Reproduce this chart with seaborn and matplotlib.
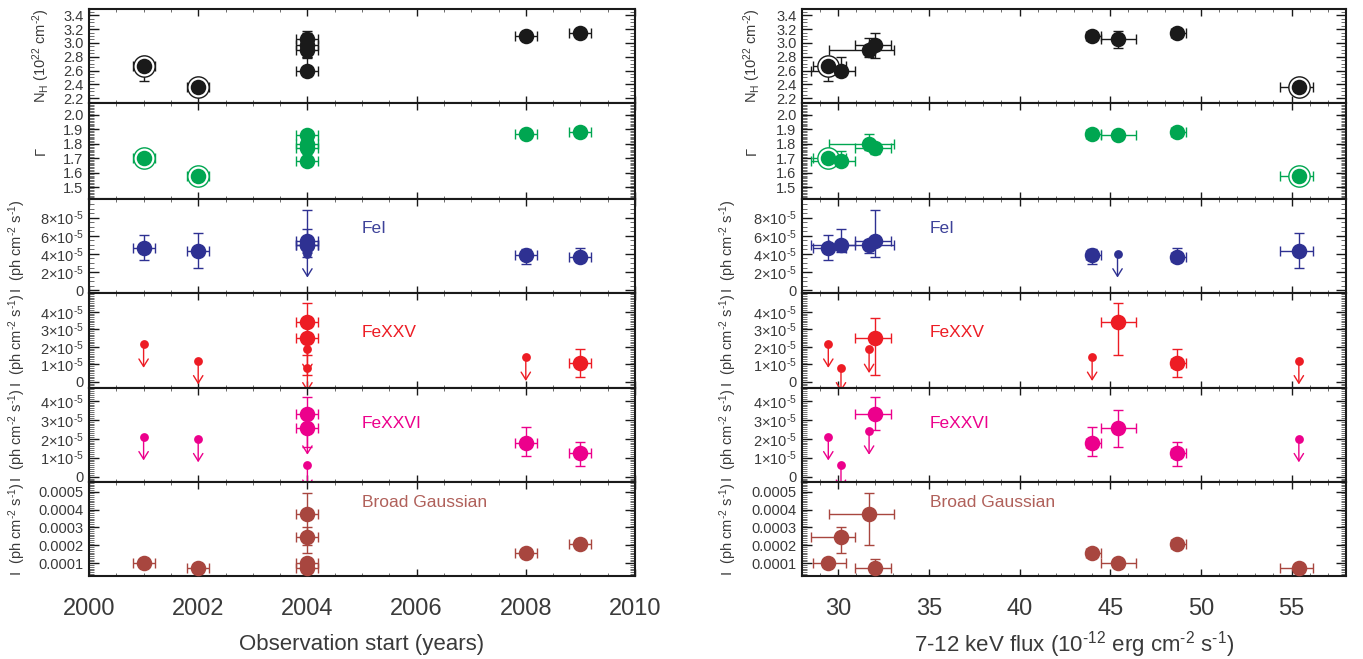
import numpy as np
import pandas as pd
import matplotlib
matplotlib.use("Agg")
import matplotlib.pyplot as plt
import matplotlib.transforms as mtransforms
from matplotlib.ticker import MultipleLocator, FixedLocator, FixedFormatter
import seaborn as sns

# ---------------- data (one entry per observation) ----------------
obs_date = [2001, 2004, 2004, 2004, 2008, 2004, 2009, 2002]
date_err = [0.2, 0.2, 0.2, 0.2, 0.2, 0.2, 0.2, 0.2]
flux = [29.45, 30.15, 31.7, 32.0, 44.0, 45.4, 48.7, 55.4]
flux_lo = [28.6, 28.5, 29.5, 30.95, 43.65, 44.5, 48.35, 54.35]
flux_hi = [30.4, 30.95, 33.1, 32.9, 44.5, 46.4, 49.2, 56.2]
circled = [1, 0, 0, 0, 0, 0, 0, 1]

nh = [2.67, 2.60, 2.90, 2.97, 3.10, 3.05, 3.15, 2.36]
nh_lo = [2.45, 2.52, 2.80, 2.78, 3.05, 2.93, 3.10, 2.26]
nh_hi = [2.80, 2.80, 3.07, 3.14, 3.15, 3.17, 3.20, 2.46]

gam = [1.70, 1.68, 1.80, 1.77, 1.87, 1.86, 1.88, 1.58]
gam_lo = [1.67, 1.65, 1.76, 1.73, 1.85, 1.84, 1.86, 1.56]
gam_hi = [1.73, 1.75, 1.865, 1.80, 1.89, 1.88, 1.90, 1.60]

fei = [4.6, 5.0, 5.0, 5.4, 3.9, 4.0, 3.7, 4.3]            # 1e-5
fei_lo = [3.3, 4.2, 4.1, 3.7, 2.9, np.nan, 3.1, 2.4]
fei_hi = [6.1, 6.7, 5.5, 8.8, 4.5, np.nan, 4.7, 6.3]
fei_ul = [0, 0, 0, 0, 0, 1, 0, 0]

fe25 = [2.15, 0.8, 1.85, 2.5, 1.4, 3.4, 1.1, 1.2]         # 1e-5
fe25_lo = [np.nan, np.nan, np.nan, 0.4, np.nan, 1.55, 0.25, np.nan]
fe25_hi = [np.nan, np.nan, np.nan, 3.65, np.nan, 4.5, 1.85, np.nan]
fe25_ul = [1, 1, 1, 0, 1, 0, 0, 1]

fe26 = [2.1, 0.6, 2.4, 3.3, 1.8, 2.55, 1.25, 2.0]         # 1e-5
fe26_lo = [np.nan, np.nan, np.nan, 2.45, 1.1, 1.55, 0.55, np.nan]
fe26_hi = [np.nan, np.nan, np.nan, 4.2, 2.6, 3.5, 1.85, np.nan]
fe26_ul = [1, 1, 1, 0, 0, 0, 0, 1]

bg = [1.0, 2.45, 3.75, 0.75, 1.6, 1.0, 2.1, 0.75]          # 1e-4
bg_lo = [0.92, 1.55, 2.0, 0.5, 1.52, 0.92, 2.02, 0.68]
bg_hi = [1.08, 3.0, 4.95, 1.25, 1.68, 1.08, 2.18, 0.82]

fei_ticks = [0, 2, 4, 6, 8]
fe25_ticks = [0, 1, 2, 3, 4]
fe26_ticks = [0, 1, 2, 3, 4]
bg_ticks = [1, 2, 3, 4, 5]
date_ticks = [2000, 2002, 2004, 2006, 2008, 2010]
flux_ticks = [30, 35, 40, 45, 50, 55]

line_names = ["FeI", "FeXXV", "FeXXVI", "Broad Gaussian"]

# ---------------- style ----------------
sns.set_theme(style="ticks")
plt.rcParams["font.family"] = ["Liberation Sans", "DejaVu Sans"]
plt.rcParams["mathtext.fontset"] = "custom"
plt.rcParams["mathtext.rm"] = "Liberation Sans"
plt.rcParams["mathtext.it"] = "Liberation Sans:italic"
plt.rcParams["mathtext.default"] = "regular"

TXT = "#3a3a3a"
C_BLACK = "#1a1a1a"
C_GREEN = "#00a651"
C_BLUE = "#2e3192"
C_RED = "#ed1c24"
C_MAG = "#ec008c"
C_BROWN = "#a8463f"
HY = "\u2010"  # short hyphen for superscripts

fig = plt.figure(figsize=(13.63, 6.59), dpi=100)
W, H = 1363.0, 659.0
row_edges = [9, 103, 199, 293, 388, 482, 576]
col_x = [(89, 635), (802, 1346)]

s1e5 = 1e-5
s1e4 = 1e-4

panels = [
    dict(y=nh, lo=nh_lo, hi=nh_hi, ul=[0] * 8, c=C_BLACK, ring=True, scale=1.0,
         ylim=(2.13, 3.49), major=0.2, minor=0.05, fmt="%.1f",
         ylabel="N$_{H}$ (10$^{22}$ cm$^{%s2}$)" % HY, name=None),
    dict(y=gam, lo=gam_lo, hi=gam_hi, ul=[0] * 8, c=C_GREEN, ring=True, scale=1.0,
         ylim=(1.417, 2.083), major=0.1, minor=0.01, fmt="%.1f",
         ylabel="\u0393", name=None),
    dict(y=fei, lo=fei_lo, hi=fei_hi, ul=fei_ul, c=C_BLUE, ring=False, scale=s1e5,
         ylim=(-0.3, 10.05), ticks=fei_ticks, minor=0.5, ylabel=None,
         name=line_names[0], tc="#3d4299", ty=0.69),
    dict(y=fe25, lo=fe25_lo, hi=fe25_hi, ul=fe25_ul, c=C_RED, ring=False, scale=s1e5,
         ylim=(-0.35, 5.07), ticks=fe25_ticks, minor=0.1, ylabel=None,
         name=line_names[1], tc=C_RED, ty=0.58),
    dict(y=fe26, lo=fe26_lo, hi=fe26_hi, ul=fe26_ul, c=C_MAG, ring=False, scale=s1e5,
         ylim=(-0.28, 4.67), ticks=fe26_ticks, minor=0.1, ylabel=None,
         name=line_names[2], tc=C_MAG, ty=0.62),
    dict(y=bg, lo=bg_lo, hi=bg_hi, ul=[0] * 8, c=C_BROWN, ring=False, scale=s1e4,
         ylim=(0.29, 5.54), ticks=bg_ticks, minor=0.1, ylabel=None,
         name=line_names[3], tc="#b0605a", ty=0.78),
]

IFLUX = "I  (ph cm$^{%s2}$ s$^{%s1}$)" % (HY, HY)


def draw_panel(ax, xv, xlo, xhi, p):
    sc = p["scale"]
    y = np.array(p["y"], float) * sc
    lo = np.array(p["lo"], float) * sc
    hi = np.array(p["hi"], float) * sc
    ul = np.array(p["ul"], bool)
    xv = np.array(xv, float)
    xlo = np.array(xlo, float)
    xhi = np.array(xhi, float)
    det = ~ul
    c = p["c"]
    ax.errorbar(xv[det], y[det],
                xerr=[xv[det] - xlo[det], xhi[det] - xv[det]],
                yerr=[y[det] - lo[det], hi[det] - y[det]],
                fmt="none", ecolor=c, elinewidth=1.0, capsize=3.5, capthick=1.0,
                zorder=2)
    df = pd.DataFrame({"x": xv, "y": y, "ul": ul})
    sns.scatterplot(data=df[~df.ul], x="x", y="y", ax=ax, color=c, s=125,
                    linewidth=0, zorder=4, legend=False)
    if ul.any():
        sns.scatterplot(data=df[df.ul], x="x", y="y", ax=ax, color=c, s=40,
                        linewidth=0, zorder=4, legend=False)
        off = mtransforms.offset_copy(ax.transData, fig=fig, x=0, y=-17,
                                      units="points")
        for xi, yi in zip(xv[ul], y[ul]):
            ann = ax.annotate("", xy=(xi, yi), xycoords=off, xytext=(xi, yi),
                              textcoords="data", annotation_clip=False,
                              arrowprops=dict(arrowstyle="->,head_length=0.45,head_width=0.28",
                                              color=c, lw=1.0, shrinkA=0, shrinkB=0))
            ann.arrow_patch.set_clip_box(ax.bbox)
            ann.arrow_patch.set_clip_on(True)
    if p["ring"]:
        ring = np.array(circled, bool)
        ax.scatter(xv[ring], y[ring], s=235, facecolors="white", edgecolors=c,
                   linewidths=1.0, zorder=3)
    ax.set_xlabel("")
    ax.set_ylabel("")


for col in range(2):
    x0, x1 = col_x[col]
    if col == 0:
        xv = obs_date
        xlo = list(np.array(obs_date) - np.array(date_err))
        xhi = list(np.array(obs_date) + np.array(date_err))
        xlim = (2000, 2010)
    else:
        xv, xlo, xhi = flux, flux_lo, flux_hi
        xlim = (28, 58)
    for r, p in enumerate(panels):
        top, bot = row_edges[r], row_edges[r + 1]
        ax = fig.add_axes([x0 / W, 1 - bot / H, (x1 - x0) / W, (bot - top) / H])
        draw_panel(ax, xv, xlo, xhi, p)
        ax.set_xlim(*xlim)
        sc = p["scale"]
        ax.set_ylim(p["ylim"][0] * sc, p["ylim"][1] * sc)
        # y ticks
        if "ticks" in p:
            tv = [t * sc for t in p["ticks"]]
            ax.yaxis.set_major_locator(FixedLocator(tv))
            if sc == s1e5:
                labs = ["0" if t == 0 else "%d\u00d710$^{%s5}$" % (t, HY) for t in p["ticks"]]
            else:
                labs = ["%.4f" % (t * sc) for t in p["ticks"]]
            ax.yaxis.set_major_formatter(FixedFormatter(labs))
            ax.yaxis.set_minor_locator(MultipleLocator(p["minor"] * sc))
        else:
            ax.yaxis.set_major_locator(MultipleLocator(p["major"]))
            ax.yaxis.set_minor_locator(MultipleLocator(p["minor"]))
            ax.yaxis.set_major_formatter(matplotlib.ticker.FormatStrFormatter(p["fmt"]))
        # x ticks
        if col == 0:
            ax.xaxis.set_major_locator(FixedLocator(date_ticks))
            ax.xaxis.set_minor_locator(MultipleLocator(0.5))
        else:
            ax.xaxis.set_major_locator(FixedLocator(flux_ticks))
            ax.xaxis.set_minor_locator(MultipleLocator(1))
        ax.tick_params(which="both", direction="in", top=True, right=True,
                       colors=C_BLACK, labelcolor=TXT)
        ax.tick_params(axis="y", which="major", length=7, width=1.0, labelsize=10.5, pad=4)
        ax.tick_params(axis="y", which="minor", length=3.5, width=0.6, colors="#555555")
        ax.tick_params(axis="x", which="major", length=5, width=1.0, labelsize=17, pad=16)
        ax.tick_params(axis="x", which="minor", length=2.5, width=0.6, colors="#555555")
        if r < 5:
            ax.tick_params(axis="x", labelbottom=False)
        for sp in ax.spines.values():
            sp.set_linewidth(1.5)
            sp.set_color(C_BLACK)
        # y labels
        lab = p["ylabel"] if p["ylabel"] is not None else IFLUX
        ax.set_ylabel(lab, fontsize=10.5, color=TXT)
        ax.yaxis.label.set_va("center")
        lx = -0.088 if p["ylabel"] is not None else -0.132
        if col == 1:
            lx -= 0.004
        ax.yaxis.set_label_coords(lx, 0.5)
        # line name
        if p["name"] is not None:
            tx = 0.50 if col == 0 else 0.235
            ax.text(tx, p["ty"], p["name"], transform=ax.transAxes, color=p["tc"],
                    fontsize=12.5, va="center", ha="left")
        if r == 5:
            if col == 0:
                ax.set_xlabel("Observation start (years)", fontsize=16, color=TXT)
            else:
                ax.set_xlabel("7-12 keV flux (10$^{%s12}$ erg cm$^{%s2}$ s$^{%s1}$)" % (HY, HY, HY),
                              fontsize=16, color=TXT)
            ax.xaxis.label.set_va("center")
            ax.xaxis.set_label_coords(0.5, -0.73)

fig.savefig("out.png", dpi=100)
